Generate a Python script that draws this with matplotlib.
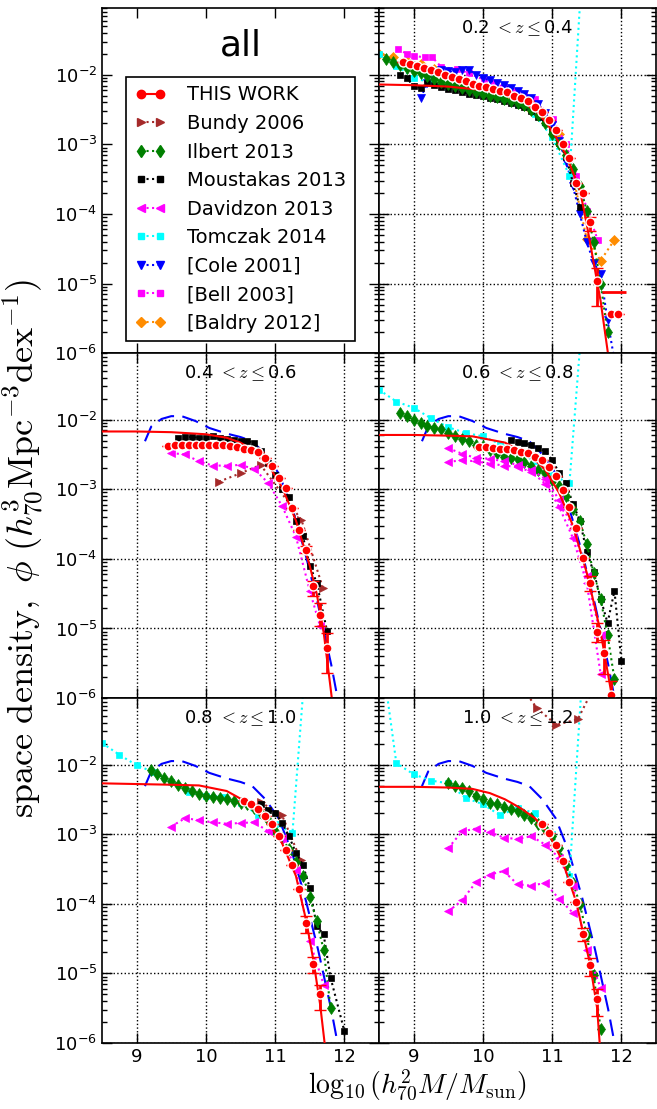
import numpy as np
import matplotlib.pyplot as plt

plt.rcParams['font.family'] = 'DejaVu Sans'
plt.rcParams['mathtext.fontset'] = 'cm'

#redshift bins shown in the five data panels
zlabels = ['0.2 $<z\\leq$0.4', '0.4 $<z\\leq$0.6', '0.6 $<z\\leq$0.8',
           '0.8 $<z\\leq$1.0', '1.0 $<z\\leq$1.2']

#THIS WORK : log10 mass, log10 phi, errors (dex)
tw_m_1 = [8.85, 8.95, 9.05, 9.15, 9.25, 9.35, 9.45, 9.55, 9.65, 9.75, 9.85, 9.95, 10.05, 10.15, 10.25, 10.35,
          10.45, 10.55, 10.65, 10.75, 10.85, 10.95, 11.05, 11.15, 11.25, 11.35, 11.45, 11.55, 11.65, 11.85, 11.95]
tw_p_1 = [-1.82, -1.85, -1.87, -1.90, -1.93, -1.96, -2.00, -2.03, -2.06, -2.09, -2.13, -2.16, -2.17, -2.21, -2.24, -2.25,
          -2.30, -2.34, -2.37, -2.47, -2.54, -2.65, -2.80, -3.00, -3.19, -3.55, -3.70, -4.12, -4.96, -5.44, -5.44]
tw_lo_1 = [0]*27 + [0.12, 0.36, 0.0, 0.0]
tw_hi_1 = [0]*27 + [0.08, 0.19, 0.0, 0.0]
#upper limit bar in the last bins
ul_m_1 = [11.9]
ul_p_1 = [-5.12]

tw_m_2 = [9.45, 9.55, 9.65, 9.75, 9.85, 9.95, 10.05, 10.15, 10.25, 10.35, 10.45, 10.55, 10.65, 10.75, 10.85, 10.95,
          11.05, 11.15, 11.25, 11.35, 11.45, 11.55, 11.65, 11.75]
tw_p_2 = [-2.38, -2.37, -2.36, -2.36, -2.36, -2.36, -2.36, -2.36, -2.37, -2.38, -2.40, -2.42, -2.43, -2.46, -2.55, -2.67,
          -2.84, -2.98, -3.27, -3.59, -3.87, -4.39, -4.81, -5.28]
tw_lo_2 = [0]*20 + [0.05, 0.14, 0.15, 0.36]
tw_hi_2 = [0]*20 + [0.05, 0.07, 0.18, 0.22]

tw_m_3 = [9.95, 10.05, 10.15, 10.25, 10.35, 10.45, 10.55, 10.65, 10.75, 10.85, 10.95, 11.05, 11.15, 11.25, 11.35, 11.45,
          11.55, 11.65, 11.75, 11.85]
tw_p_3 = [-2.39, -2.40, -2.41, -2.42, -2.42, -2.43, -2.46, -2.48, -2.53, -2.58, -2.68, -2.81, -3.01, -3.26, -3.55, -3.99,
          -4.34, -5.05, -5.35, -5.95]
tw_lo_3 = [0]*16 + [0.12, 0.15, 0.31, 0.4]
tw_hi_3 = [0]*16 + [0.10, 0.13, 0.19, 0.2]

tw_m_4 = [10.55, 10.65, 10.75, 10.85, 10.95, 11.05, 11.15, 11.25, 11.35, 11.45, 11.55, 11.65]
tw_p_4 = [-2.53, -2.57, -2.64, -2.74, -2.86, -3.03, -3.23, -3.45, -3.79, -4.27, -4.86, -5.30]
tw_lo_4 = [0]*9 + [0.15, 0.13, 0.22]
tw_hi_4 = [0]*9 + [0.10, 0.10, 0.14]

tw_m_5 = [10.85, 10.95, 11.05, 11.15, 11.25, 11.35, 11.45, 11.55, 11.65]
tw_p_5 = [-2.86, -2.99, -3.15, -3.39, -3.69, -3.98, -4.43, -4.88, -5.37]
tw_lo_5 = [0]*6 + [0.10, 0.16, 0.24]
tw_hi_5 = [0]*6 + [0.08, 0.10, 0.15]

#Schechter fits (solid red)
fit_m_1 = [8.5, 9.0, 9.5, 10.0, 10.3, 10.6, 10.8, 11.0, 11.2, 11.4, 11.5, 11.6, 11.7, 11.8, 11.85]
fit_p_1 = [-2.14, -2.15, -2.17, -2.22, -2.28, -2.40, -2.55, -2.80, -3.15, -3.65, -4.15, -4.70, -5.25, -5.96, -6.3]
fit_m_2 = [8.5, 9.0, 9.5, 10.0, 10.3, 10.5, 10.7, 10.9, 11.1, 11.3, 11.5, 11.6, 11.7, 11.8, 11.83]
fit_p_2 = [-2.17, -2.17, -2.18, -2.21, -2.26, -2.33, -2.45, -2.65, -2.97, -3.45, -4.10, -4.50, -5.05, -5.85, -6.1]
fit_m_3 = [8.5, 9.0, 9.5, 9.85, 10.32, 10.5, 10.7, 10.9, 11.1, 11.3, 11.5, 11.7, 11.85, 11.9]
fit_p_3 = [-2.22, -2.22, -2.23, -2.24, -2.33, -2.43, -2.53, -2.72, -3.05, -3.52, -4.20, -5.05, -5.90, -6.2]
fit_m_4 = [8.5, 9.0, 9.5, 9.9, 10.3, 10.5, 10.7, 10.9, 11.1, 11.3, 11.45, 11.55, 11.65, 11.72]
fit_p_4 = [-2.27, -2.28, -2.29, -2.30, -2.38, -2.49, -2.62, -2.83, -3.13, -3.60, -4.25, -4.80, -5.45, -6.05]
fit_m_5 = [8.5, 9.0, 9.5, 9.85, 10.1, 10.32, 10.55, 10.75, 10.95, 11.15, 11.35, 11.55, 11.65, 11.69]
fit_p_5 = [-2.32, -2.32, -2.33, -2.35, -2.41, -2.50, -2.63, -2.77, -2.99, -3.39, -3.98, -4.88, -5.50, -6.05]

#local reference curve (blue dashed, panels 2-5)
ref_m = [9.12, 9.21, 9.36, 9.5, 9.65, 9.85, 10.05, 10.3, 10.5, 10.67, 10.86, 11.05, 11.24, 11.43, 11.62, 11.81, 11.92]
ref_p = [-2.31, -2.10, -1.99, -1.95, -1.95, -2.02, -2.12, -2.20, -2.25, -2.31, -2.50, -2.77, -3.25, -3.90, -4.66, -5.52, -6.1]

#Bundy 2006
bun_m_2 = [10.19, 10.5, 10.79, 11.38, 11.69]
bun_p_2 = [-2.89, -2.77, -2.65, -3.44, -4.42]
bun_m_4 = [10.79, 11.1, 11.37]
bun_p_4 = [-2.54, -2.73, -3.37]
bun_m_5 = [10.5, 10.78, 11.06, 11.37, 11.65]
bun_p_5 = [-0.8, -1.19, -1.43, -1.35, -0.8]

#Ilbert 2013
ilb_m_1 = [8.6, 8.7, 8.8, 8.9, 9.0, 9.1, 9.2, 9.3, 9.4, 9.5, 9.6, 9.7, 9.8, 9.9, 10.0, 10.1, 10.2,
           10.3, 10.4, 10.5, 10.6, 10.7, 10.8, 10.9, 11.0, 11.1, 11.2, 11.3, 11.4, 11.5, 11.6, 11.7, 11.8]
ilb_p_1 = [-1.78, -1.82, -1.86, -1.90, -1.94, -1.98, -2.02, -2.06, -2.10, -2.13, -2.16, -2.19, -2.22, -2.25, -2.28, -2.30, -2.32,
           -2.35, -2.37, -2.40, -2.44, -2.50, -2.58, -2.70, -2.85, -3.00, -3.15, -3.35, -3.60, -3.95, -4.40, -5.00, -5.70]
ilb_m_3 = [8.8, 8.9, 9.0, 9.1, 9.2, 9.3, 9.4, 9.5, 9.6, 9.7, 9.8, 9.9, 10.0, 10.1, 10.2, 10.3,
           10.4, 10.5, 10.6, 10.7, 10.8, 10.9, 11.0, 11.1, 11.2, 11.3, 11.4, 11.5, 11.6, 11.7, 11.8, 11.9]
ilb_p_3 = [-1.91, -1.95, -2.00, -2.05, -2.09, -2.12, -2.14, -2.19, -2.24, -2.28, -2.31, -2.36, -2.38, -2.43, -2.48, -2.54,
           -2.55, -2.57, -2.61, -2.66, -2.72, -2.77, -2.86, -2.96, -3.10, -3.28, -3.45, -3.79, -4.20, -4.58, -5.09, -5.73]
ilb_m_4 = [9.2, 9.3, 9.4, 9.5, 9.6, 9.7, 9.8, 9.9, 10.0, 10.1, 10.2, 10.3, 10.4, 10.5, 10.6,
           10.7, 10.8, 10.9, 11.0, 11.1, 11.2, 11.3, 11.4, 11.5, 11.6, 11.7, 11.8]
ilb_p_4 = [-2.08, -2.14, -2.19, -2.23, -2.29, -2.34, -2.38, -2.42, -2.45, -2.46, -2.48, -2.50, -2.53, -2.55, -2.57,
           -2.62, -2.70, -2.80, -2.95, -3.05, -3.22, -3.40, -3.60, -3.90, -4.25, -4.66, -5.49]
ilb_m_5 = [9.5, 9.6, 9.7, 9.8, 9.9, 10.0, 10.1, 10.2, 10.3, 10.4, 10.5, 10.6, 10.7,
           10.8, 10.9, 11.0, 11.1, 11.2, 11.3, 11.4, 11.5, 11.6, 11.7]
ilb_p_5 = [-2.26, -2.31, -2.34, -2.38, -2.45, -2.50, -2.55, -2.57, -2.61, -2.64, -2.67, -2.72, -2.77,
           -2.85, -2.93, -3.02, -3.20, -3.45, -3.70, -4.00, -4.45, -5.03, -5.80]

#Moustakas 2013
mou_m_1 = [8.8, 8.9, 9.0, 9.1, 9.2, 9.3, 9.4, 9.5, 9.6, 9.7, 9.8, 9.9, 10.0, 10.1, 10.2, 10.3,
           10.4, 10.5, 10.6, 10.7, 10.8, 10.9, 11.0, 11.1, 11.2, 11.3, 11.4]
mou_p_1 = [-2.01, -2.05, -2.16, -2.19, -2.12, -2.15, -2.17, -2.20, -2.22, -2.25, -2.27, -2.29, -2.31, -2.33, -2.35, -2.37,
           -2.40, -2.43, -2.47, -2.52, -2.60, -2.68, -2.80, -2.98, -3.18, -3.55, -3.90]
mou_m_2 = [9.6, 9.7, 9.8, 9.9, 10.0, 10.1, 10.2, 10.3, 10.4, 10.5, 10.6, 10.7, 10.8, 10.9, 11.0, 11.1,
           11.2, 11.3, 11.4, 11.5, 11.6, 11.75]
mou_p_2 = [-2.26, -2.25, -2.25, -2.26, -2.26, -2.24, -2.27, -2.28, -2.29, -2.30, -2.31, -2.33, -2.45, -2.62, -2.80, -3.00,
           -3.11, -3.46, -3.67, -4.10, -4.34, -5.04]
mou_m_3 = [10.4, 10.5, 10.6, 10.7, 10.8, 10.9, 11.0, 11.1, 11.2, 11.3, 11.4, 11.5, 11.6, 11.7, 11.8, 11.9, 12.0]
mou_p_3 = [-2.29, -2.32, -2.34, -2.37, -2.41, -2.45, -2.58, -2.76, -2.91, -3.21, -3.45, -3.90, -4.19, -4.57, -4.92, -4.46, -5.47]
mou_m_4 = [10.8, 10.9, 11.0, 11.1, 11.2, 11.3, 11.4, 11.5, 11.6, 11.7, 11.8, 12.0]
mou_p_4 = [-2.57, -2.65, -2.69, -2.84, -3.03, -3.27, -3.44, -3.77, -4.32, -4.44, -5.06, -5.83]

#Davidzon 2013 (some bins have two sub-samples)
dav_m_2 = [9.5, 9.7, 9.9, 10.1, 10.3, 10.5, 10.7, 10.9, 11.1, 11.3, 11.5, 11.65]
dav_p_2 = [-2.48, -2.50, -2.60, -2.66, -2.66, -2.65, -2.71, -2.91, -3.24, -3.68, -4.46, -4.97]
dav_m_3a = [9.5, 9.7, 9.9, 10.1, 10.3, 10.5, 10.7, 10.9, 11.1, 11.3, 11.5, 11.7]
dav_p_3a = [-2.41, -2.49, -2.55, -2.56, -2.60, -2.65, -2.72, -2.85, -3.15, -3.55, -4.25, -5.10]
dav_m_3b = [9.5, 9.7, 9.9, 10.1, 10.3, 10.5, 10.7, 10.9, 11.1, 11.3, 11.5, 11.7]
dav_p_3b = [-2.61, -2.58, -2.60, -2.63, -2.66, -2.68, -2.75, -2.92, -3.25, -3.70, -4.35, -5.65]
dav_m_4 = [9.5, 9.7, 9.9, 10.1, 10.3, 10.5, 10.7, 10.9, 11.1, 11.3, 11.5, 11.7]
dav_p_4 = [-2.89, -2.77, -2.80, -2.83, -2.85, -2.84, -2.83, -2.96, -3.05, -3.51, -4.54, -5.16]
dav_m_5a = [9.5, 9.7, 9.9, 10.1, 10.3, 10.5, 10.7, 10.9, 11.1, 11.3, 11.5, 11.7]
dav_p_5a = [-3.20, -2.96, -2.92, -2.97, -3.05, -3.07, -3.03, -3.15, -3.34, -3.75, -4.66, -5.21]
dav_m_5b = [9.5, 9.7, 9.9, 10.1, 10.3, 10.5, 10.7, 10.9, 11.1, 11.3]
dav_p_5b = [-4.11, -3.95, -3.69, -3.58, -3.53, -3.72, -3.74, -3.70, -3.93, -4.13]

#Tomczak 2014 (last bins blow up off the top)
tom_m_1 = [8.5, 8.75, 9.0, 9.25, 9.5, 9.75, 10.0, 10.25, 10.5, 10.75, 11.0, 11.25, 11.5]
tom_p_1 = [-1.70, -1.87, -2.04, -2.12, -2.18, -2.22, -2.27, -2.33, -2.42, -2.57, -2.90, -3.45, 0.6]
tom_m_3 = [8.5, 8.75, 9.0, 9.25, 9.5, 9.75, 10.0, 10.25, 10.5, 10.75, 11.0, 11.25, 11.5]
tom_p_3 = [-1.57, -1.74, -1.83, -1.98, -2.11, -2.19, -2.24, -2.35, -2.45, -2.60, -2.80, -2.91, 0.3]
tom_m_4 = [8.5, 8.75, 9.0, 9.25, 9.5, 9.75, 10.0, 10.25, 10.5, 10.75, 11.0, 11.25, 11.5]
tom_p_4 = [-1.69, -1.86, -2.01, -2.11, -2.25, -2.40, -2.45, -2.46, -2.55, -2.72, -2.85, -2.98, 0.3]
tom_m_5 = [8.5, 8.75, 9.0, 9.25, 9.5, 9.75, 10.0, 10.25, 10.5, 10.75, 11.0, 11.25, 11.5]
tom_p_5 = [-0.15, -1.98, -2.14, -2.23, -2.27, -2.48, -2.57, -2.73, -2.62, -2.70, -3.00, -3.60, 0.3]

#local samples, only in the first bin
col_m = [9.1, 9.2, 9.3, 9.4, 9.5, 9.6, 9.7, 9.8, 9.9, 10.0, 10.1, 10.2, 10.3, 10.4, 10.5, 10.6, 10.7,
         10.8, 10.9, 11.0, 11.1, 11.2, 11.3, 11.4, 11.5, 11.6, 11.7, 11.8, 11.9]
col_p = [-2.33, -2.12, -2.00, -1.93, -1.95, -1.96, -1.93, -1.93, -2.00, -2.05, -2.08, -2.12, -2.15, -2.19, -2.23, -2.28, -2.33,
         -2.42, -2.55, -2.72, -2.95, -3.25, -3.60, -4.00, -4.40, -4.70, -4.86, -5.53, -6.10]
bel_m = [8.78, 8.9, 9.01, 9.16, 9.27, 9.4, 9.63, 9.8, 10.01, 10.16, 10.3, 10.44, 10.6, 10.75, 11.01, 11.2, 11.35, 11.51, 11.66]
bel_p = [-1.63, -1.70, -1.73, -1.75, -1.75, -1.89, -1.92, -1.98, -2.07, -2.12, -2.18, -2.23, -2.28, -2.35, -2.64, -3.0, -3.45, -3.95, -4.38]
bal_m = [8.5, 8.7, 8.9, 9.1, 9.3, 9.5, 9.7, 9.9, 10.1, 10.3, 10.5, 10.7, 10.9, 11.1, 11.3, 11.5, 11.7, 11.9]
bal_p = [-1.70, -1.75, -1.80, -1.85, -1.92, -2.00, -2.11, -2.25, -2.30, -2.35, -2.40, -2.50, -2.62, -2.85, -3.45, -4.36, -4.67, -4.37]

#styles for each survey
sty = {
    'bun': dict(color='brown', marker='>', ms=6, ls=':', label='Bundy 2006'),
    'ilb': dict(color='green', marker='d', ms=6.5, ls=':', label='Ilbert 2013'),
    'mou': dict(color='k', marker='s', ms=5, ls=':', label='Moustakas 2013'),
    'dav': dict(color='magenta', marker='<', ms=6, ls=':', label='Davidzon 2013'),
    'tom': dict(color='cyan', marker='s', ms=5, ls=':', label='Tomczak 2014'),
    'col': dict(color='blue', marker='v', ms=6, ls=':', label='[Cole 2001]'),
    'bel': dict(color='magenta', marker='s', ms=5, ls=':', label='[Bell 2003]'),
    'bal': dict(color='darkorange', marker='D', ms=5, ls=':', label='[Baldry 2012]'),
}

def curve(ax, m, lp, key):
	s = dict(sty[key])
	s.pop('label')
	ax.plot(m, 10**np.array(lp), lw=1.5, mew=0.5, mec=s['color'], **s)

def thiswork(ax, m, lp, lo, hi, fm, fp):
	ax.plot(fm, 10**np.array(fp), color='red', lw=1.5, zorder=5)
	lp = np.array(lp)
	y = 10**lp
	yerr = [y - 10**(lp - np.array(lo)), 10**(lp + np.array(hi)) - y]
	ax.errorbar(m, y, yerr=yerr, fmt='o', color='red', ms=6.5, mec='white', mew=1,
	            elinewidth=2, capsize=4, capthick=2, zorder=6)

fig, axs = plt.subplots(3, 2, sharex=True, sharey=True, figsize=(6.57, 11.09), dpi=100,
                        gridspec_kw=dict(left=0.1553, right=0.9985, top=0.9925, bottom=0.0595, wspace=0, hspace=0))

panels = [axs[0, 1], axs[1, 0], axs[1, 1], axs[2, 0], axs[2, 1]]

for ax in axs.flat:
	ax.set_yscale('log')
	ax.set_xlim(8.5, 12.5)
	ax.set_ylim(1e-6, 9e-2)
	ax.set_xticks([9, 10, 11, 12])
	ax.tick_params(which='both', direction='in', top=True, right=True, labelsize=13)
	ax.tick_params(which='major', length=7, width=1)
	ax.tick_params(which='minor', length=3.5, width=1)
	for sp in ax.spines.values():
		sp.set_linewidth(1.2)

for ax in panels:
	ax.grid(True, which='major', color='k', ls=':', lw=1)
	ax.set_axisbelow(True)

for ax in panels[1:]:
	ax.plot(ref_m, 10**np.array(ref_p), color='blue', ls='--', lw=1.5, dashes=(8, 4))

#0.2 < z < 0.4
ax = panels[0]
curve(ax, bal_m, bal_p, 'bal')
curve(ax, bel_m, bel_p, 'bel')
curve(ax, col_m, col_p, 'col')
curve(ax, tom_m_1, tom_p_1, 'tom')
curve(ax, mou_m_1, mou_p_1, 'mou')
curve(ax, ilb_m_1, ilb_p_1, 'ilb')
thiswork(ax, tw_m_1, tw_p_1, tw_lo_1, tw_hi_1, fit_m_1, fit_p_1)
ax.plot(ul_m_1, 10**np.array(ul_p_1), color='red', marker='_', ms=17, mew=2, ls='none', zorder=6)

#0.4 < z < 0.6
ax = panels[1]
curve(ax, bun_m_2, bun_p_2, 'bun')
curve(ax, mou_m_2, mou_p_2, 'mou')
curve(ax, dav_m_2, dav_p_2, 'dav')
thiswork(ax, tw_m_2, tw_p_2, tw_lo_2, tw_hi_2, fit_m_2, fit_p_2)

#0.6 < z < 0.8
ax = panels[2]
curve(ax, tom_m_3, tom_p_3, 'tom')
curve(ax, mou_m_3, mou_p_3, 'mou')
curve(ax, ilb_m_3, ilb_p_3, 'ilb')
curve(ax, dav_m_3a, dav_p_3a, 'dav')
curve(ax, dav_m_3b, dav_p_3b, 'dav')
thiswork(ax, tw_m_3, tw_p_3, tw_lo_3, tw_hi_3, fit_m_3, fit_p_3)

#0.8 < z < 1.0
ax = panels[3]
curve(ax, tom_m_4, tom_p_4, 'tom')
curve(ax, bun_m_4, bun_p_4, 'bun')
curve(ax, mou_m_4, mou_p_4, 'mou')
curve(ax, ilb_m_4, ilb_p_4, 'ilb')
curve(ax, dav_m_4, dav_p_4, 'dav')
thiswork(ax, tw_m_4, tw_p_4, tw_lo_4, tw_hi_4, fit_m_4, fit_p_4)

#1.0 < z < 1.2
ax = panels[4]
curve(ax, tom_m_5, tom_p_5, 'tom')
curve(ax, bun_m_5, bun_p_5, 'bun')
curve(ax, ilb_m_5, ilb_p_5, 'ilb')
curve(ax, dav_m_5a, dav_p_5a, 'dav')
curve(ax, dav_m_5b, dav_p_5b, 'dav')
thiswork(ax, tw_m_5, tw_p_5, tw_lo_5, tw_hi_5, fit_m_5, fit_p_5)

for ax, lab in zip(panels, zlabels):
	ax.text(0.5, 0.942, lab, transform=ax.transAxes, ha='center', va='center', fontsize=13)

#legend panel
ax = axs[0, 0]
ax.text(0.5, 0.893, 'all', transform=ax.transAxes, ha='center', va='center', fontsize=26)
handles = [ax.plot([], [], color='red', marker='o', ms=6, ls='-', lw=1.5, label='THIS WORK')[0]]
for key in ['bun', 'ilb', 'mou', 'dav', 'tom', 'col', 'bel', 'bal']:
	s = dict(sty[key])
	handles.append(ax.plot([], [], lw=1.5, mec=s['color'], **s)[0])
leg = ax.legend(handles=handles, loc='lower center', bbox_to_anchor=(0.5, 0.006), fontsize=14,
                numpoints=2, handlelength=1.6, handletextpad=1.1, labelspacing=0.49,
                fancybox=False, framealpha=1, borderpad=0.45)
leg.get_frame().set_edgecolor('k')
leg.get_frame().set_linewidth(1.2)

fig.text(0.036, 0.505, r'$\mathrm{space\ density,}\ \phi\ (h_{70}^{3}\mathrm{Mpc}^{-3}\mathrm{dex}^{-1})$',
         rotation=90, ha='center', va='center', fontsize=26)
fig.text(0.636, 0.0216, r'$\log_{10}(h_{70}^{2}M/M_{\mathrm{sun}})$', ha='center', va='center', fontsize=20)

plt.savefig('out.png', dpi=100)
